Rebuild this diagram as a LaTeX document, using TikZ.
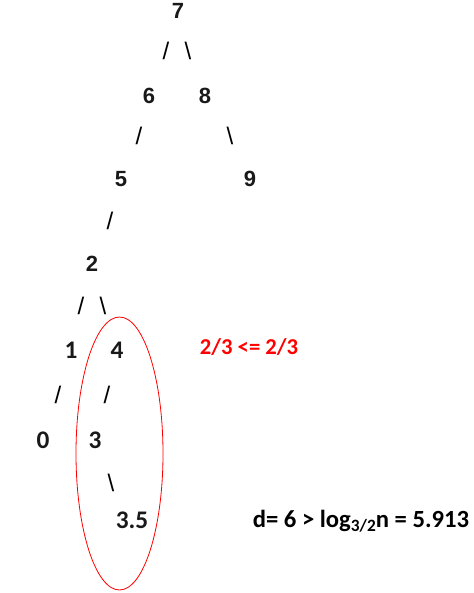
\documentclass[tikz,border=0pt]{standalone}
\usepackage{fontspec}
\setmainfont{Liberation Sans}
\newfontfamily\arialfont{Liberation Sans}
\newfontfamily\califont{Carlito}
\usetikzlibrary{positioning}
\tikzset{
    topkey/.style={font=\arialfont\bfseries\fontsize{16.5}{16.5}\selectfont,inner sep=0pt,text=black!90},
    lowkey/.style={font=\califont\bfseries\fontsize{19}{19}\selectfont,inner sep=0pt,text=black!90},
    branch/.style={font=\arialfont\fontsize{18}{18}\selectfont,inner sep=0pt},
    note/.style={font=\califont\bfseries\fontsize{17}{17}\selectfont,inner sep=0pt}
}
\newcommand{\lowidx}[1]{\raisebox{-0.35ex}{\fontsize{13}{13}\selectfont #1}}
\begin{document}
\begin{tikzpicture}[x=0.75pt,y=-0.75pt]
                \useasboundingbox (0,0) rectangle (474,593);

                % upper levels
                \node[topkey] (n7) at (178,11) {7};
                \node[branch] (b76) at (166,51) {/};
                \node[branch] (b78) at (188,51) {\textbackslash};
                \node[topkey] (n6) at (149,96) {6};
                \node[topkey] (n8) at (205,96) {8};
                \node[branch] (b65) at (139,136) {/};
                \node[branch] (b89) at (230,136) {\textbackslash};
                \node[topkey] (n5) at (121,179) {5};
                \node[topkey] (n9) at (250,179) {9};
                \node[branch] (b52) at (110,221) {/};
                \node[topkey] (n2) at (92,264) {2};
                \node[branch] (b21) at (81,306) {/};
                \node[branch] (b24) at (103,306) {\textbackslash};

                % lower levels
                \node[lowkey] (n1) at (71,350) {1};
                \node[lowkey] (n4) at (117,350) {4};
                \node[branch] (b10) at (58,395) {/};
                \node[branch] (b43) at (107,395) {/};
                \node[lowkey] (n0) at (43,440) {0};
                \node[lowkey] (n3) at (95,440) {3};
                \node[branch] (b335) at (111,483) {\textbackslash};
                \node[lowkey] (n35) at (132,520) {3.5};

                \draw[red,line width=0.6pt] (119.5,453.5) ellipse [x radius=43.5,y radius=136.5];

                \node[note,red] (ratio) at (249,347) {2/3 <= 2/3};
                \node[note,font=\califont\bfseries\fontsize{18.5}{18.5}\selectfont] (depth) at (361,521) {d= 6 > log\lowidx{3/2}n = 5.913};
            \end{tikzpicture}
\end{document}
